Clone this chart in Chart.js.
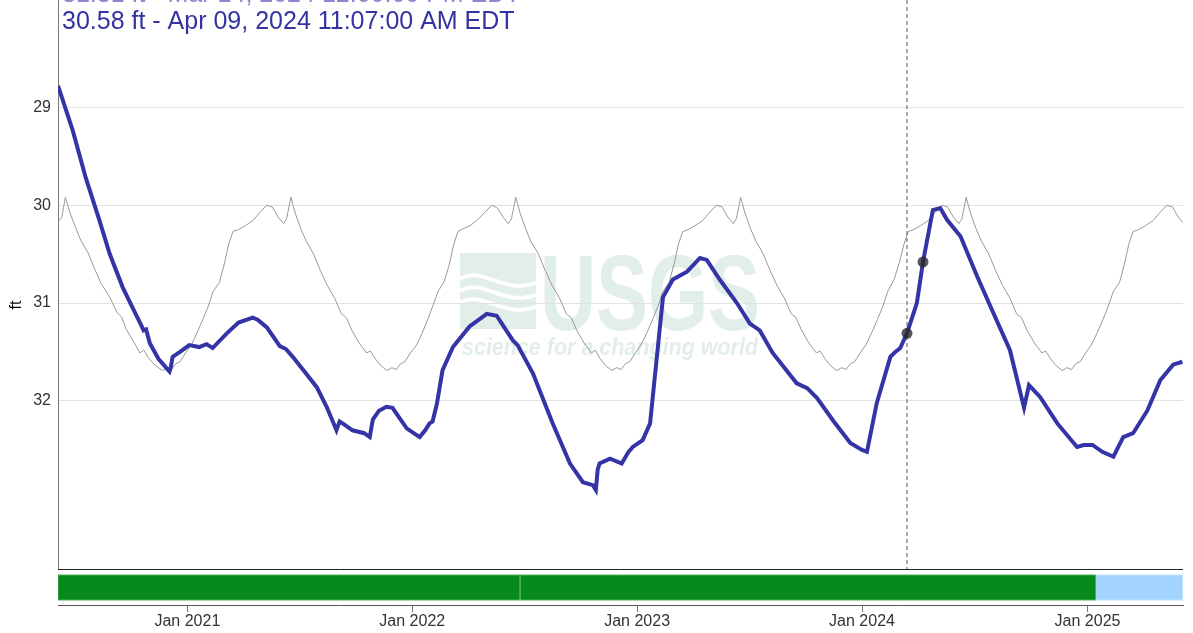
<!DOCTYPE html>
<html lang="en">
<head>
<meta charset="UTF-8">
<title>Groundwater level</title>
<script src="https://cdn.jsdelivr.net/npm/chart.js@4"></script>
<style>
  html, body { margin: 0; padding: 0; background: #fff; }
  #wrap { width: 1193px; height: 633px; position: relative; }
</style>
</head>
<body>
<div id="wrap"><canvas id="chart"></canvas></div>
<script>
// visible window
const rangeStart = '2020-06-05';
const rangeEnd = '2025-06-05';
const yMin = 27.905;   // top of plot (axis is reversed)
const yMax = 33.717;   // bottom of plot
const yTicks = [29, 30, 31, 32];
const tickYears = [2021, 2022, 2023, 2024, 2025];

// depth to water, ft
const levelPoints = [
  ['2020-06-05', 28.78], ['2020-06-29', 29.24], ['2020-07-20', 29.72], ['2020-08-11', 30.15],
  ['2020-08-28', 30.50], ['2020-09-18', 30.84], ['2020-10-05', 31.06], ['2020-10-16', 31.20],
  ['2020-10-22', 31.28], ['2020-10-26', 31.27], ['2020-11-01', 31.41], ['2020-11-15', 31.57],
  ['2020-12-03', 31.70], ['2020-12-05', 31.66], ['2020-12-08', 31.55], ['2020-12-20', 31.50],
  ['2021-01-04', 31.43], ['2021-01-20', 31.45], ['2021-02-01', 31.42], ['2021-02-11', 31.46],
  ['2021-03-06', 31.31], ['2021-03-25', 31.20], ['2021-04-17', 31.15], ['2021-04-25', 31.17],
  ['2021-05-10', 31.25], ['2021-05-31', 31.44], ['2021-06-10', 31.47], ['2021-06-21', 31.55],
  ['2021-07-10', 31.70], ['2021-07-30', 31.86], ['2021-08-15', 32.06], ['2021-08-31', 32.30],
  ['2021-09-05', 32.21], ['2021-09-10', 32.23], ['2021-09-26', 32.30], ['2021-10-15', 32.33],
  ['2021-10-24', 32.37], ['2021-10-29', 32.19], ['2021-11-08', 32.10], ['2021-11-20', 32.06],
  ['2021-11-30', 32.07], ['2021-12-12', 32.18], ['2021-12-23', 32.28], ['2022-01-13', 32.37],
  ['2022-01-22', 32.30], ['2022-01-29', 32.23], ['2022-02-03', 32.21], ['2022-02-10', 32.03],
  ['2022-02-19', 31.69], ['2022-03-08', 31.45], ['2022-04-04', 31.24], ['2022-05-02', 31.11],
  ['2022-05-18', 31.13], ['2022-06-13', 31.38], ['2022-06-21', 31.43], ['2022-07-16', 31.72],
  ['2022-08-17', 32.23], ['2022-09-14', 32.64], ['2022-10-05', 32.83], ['2022-10-21', 32.86],
  ['2022-10-26', 32.91], ['2022-10-29', 32.70], ['2022-11-01', 32.64], ['2022-11-18', 32.59],
  ['2022-12-07', 32.64], ['2022-12-18', 32.52], ['2022-12-25', 32.47], ['2023-01-10', 32.40],
  ['2023-01-22', 32.23], ['2023-02-02', 31.55], ['2023-02-12', 30.94], ['2023-02-28', 30.76],
  ['2023-03-23', 30.68], ['2023-04-13', 30.54], ['2023-04-24', 30.56], ['2023-05-15', 30.76],
  ['2023-06-12', 31.00], ['2023-07-03', 31.21], ['2023-07-19', 31.28], ['2023-08-09', 31.51],
  ['2023-09-17', 31.82], ['2023-10-04', 31.87], ['2023-10-20', 31.97], ['2023-11-15', 32.20],
  ['2023-12-13', 32.43], ['2024-01-01', 32.50], ['2024-01-09', 32.52], ['2024-01-25', 32.02],
  ['2024-02-16', 31.55], ['2024-02-24', 31.50], ['2024-03-03', 31.46], ['2024-03-14', 31.31],
  ['2024-03-30', 31.00], ['2024-04-09', 30.58], ['2024-04-25', 30.05], ['2024-05-07', 30.03],
  ['2024-05-18', 30.15], ['2024-06-09', 30.32], ['2024-07-06', 30.73], ['2024-08-01', 31.10],
  ['2024-08-28', 31.48], ['2024-09-20', 32.07], ['2024-09-28', 31.84], ['2024-10-16', 31.96],
  ['2024-11-13', 32.23], ['2024-12-15', 32.47], ['2024-12-26', 32.45], ['2025-01-09', 32.45],
  ['2025-01-25', 32.52], ['2025-02-12', 32.57], ['2025-02-28', 32.37], ['2025-03-16', 32.33],
  ['2025-04-08', 32.10], ['2025-04-29', 31.79], ['2025-05-20', 31.63], ['2025-06-04', 31.60]
];

// thin grey comparison line
const comparePoints = [
  ['2020-06-05', 30.17], ['2020-06-11', 30.13], ['2020-06-17', 29.92], ['2020-06-24', 30.07],
  ['2020-07-03', 30.22], ['2020-07-12', 30.36], ['2020-07-24', 30.49], ['2020-08-04', 30.66],
  ['2020-08-14', 30.80], ['2020-08-28', 30.94], ['2020-09-09', 31.10], ['2020-09-16', 31.14],
  ['2020-09-24', 31.27], ['2020-10-07', 31.41], ['2020-10-16', 31.51], ['2020-10-22', 31.48],
  ['2020-10-30', 31.56], ['2020-11-10', 31.64], ['2020-11-22', 31.69], ['2020-11-30', 31.66],
  ['2020-12-06', 31.68], ['2020-12-13', 31.62], ['2020-12-20', 31.60], ['2020-12-29', 31.51],
  ['2021-01-08', 31.42], ['2021-01-17', 31.30], ['2021-01-26', 31.17], ['2021-02-04', 31.03],
  ['2021-02-12', 30.88], ['2021-02-22', 30.79], ['2021-03-02', 30.60], ['2021-03-09', 30.40],
  ['2021-03-16', 30.27], ['2021-03-25', 30.25], ['2021-04-05', 30.21], ['2021-04-17', 30.16],
  ['2021-04-28', 30.08], ['2021-05-10', 30.00], ['2021-05-19', 30.02], ['2021-05-28', 30.12],
  ['2021-06-06', 30.19], ['2021-06-11', 30.14], ['2021-06-18', 29.92], ['2021-06-25', 30.08],
  ['2021-07-04', 30.24], ['2021-07-13', 30.37], ['2021-07-24', 30.49], ['2021-08-05', 30.67],
  ['2021-08-16', 30.82], ['2021-08-28', 30.95], ['2021-09-08', 31.11], ['2021-09-16', 31.15],
  ['2021-09-25', 31.28], ['2021-10-07', 31.41], ['2021-10-19', 31.51], ['2021-10-25', 31.49],
  ['2021-11-02', 31.57], ['2021-11-11', 31.64], ['2021-11-21', 31.69], ['2021-11-29', 31.66],
  ['2021-12-06', 31.68], ['2021-12-13', 31.62], ['2021-12-20', 31.60], ['2021-12-29', 31.51],
  ['2022-01-08', 31.43], ['2022-01-17', 31.31], ['2022-01-26', 31.17], ['2022-02-04', 31.02],
  ['2022-02-12', 30.88], ['2022-02-22', 30.78], ['2022-03-02', 30.61], ['2022-03-09', 30.41],
  ['2022-03-16', 30.27], ['2022-03-25', 30.24], ['2022-04-05', 30.21], ['2022-04-17', 30.15],
  ['2022-04-28', 30.08], ['2022-05-10', 30.00], ['2022-05-19', 30.03], ['2022-05-28', 30.12],
  ['2022-06-06', 30.19], ['2022-06-11', 30.14], ['2022-06-18', 29.92], ['2022-06-25', 30.08],
  ['2022-07-04', 30.24], ['2022-07-13', 30.38], ['2022-07-24', 30.49], ['2022-08-05', 30.67],
  ['2022-08-16', 30.82], ['2022-08-28', 30.95], ['2022-09-08', 31.11], ['2022-09-16', 31.15],
  ['2022-09-25', 31.28], ['2022-10-07', 31.41], ['2022-10-19', 31.51], ['2022-10-25', 31.48],
  ['2022-11-02', 31.57], ['2022-11-11', 31.64], ['2022-11-21', 31.69], ['2022-11-29', 31.66],
  ['2022-12-06', 31.68], ['2022-12-13', 31.62], ['2022-12-20', 31.60], ['2022-12-29', 31.51],
  ['2023-01-08', 31.42], ['2023-01-17', 31.30], ['2023-01-26', 31.17], ['2023-02-04', 31.03],
  ['2023-02-12', 30.88], ['2023-02-22', 30.79], ['2023-03-02', 30.60], ['2023-03-09', 30.40],
  ['2023-03-16', 30.27], ['2023-03-25', 30.25], ['2023-04-05', 30.21], ['2023-04-17', 30.16],
  ['2023-04-28', 30.08], ['2023-05-10', 30.00], ['2023-05-19', 30.02], ['2023-05-28', 30.12],
  ['2023-06-06', 30.19], ['2023-06-11', 30.14], ['2023-06-18', 29.92], ['2023-06-25', 30.08],
  ['2023-07-04', 30.24], ['2023-07-13', 30.37], ['2023-07-24', 30.49], ['2023-08-05', 30.67],
  ['2023-08-16', 30.82], ['2023-08-28', 30.95], ['2023-09-08', 31.11], ['2023-09-16', 31.15],
  ['2023-09-25', 31.28], ['2023-10-07', 31.41], ['2023-10-19', 31.51], ['2023-10-25', 31.49],
  ['2023-11-02', 31.57], ['2023-11-11', 31.64], ['2023-11-21', 31.69], ['2023-11-29', 31.66],
  ['2023-12-06', 31.68], ['2023-12-13', 31.62], ['2023-12-20', 31.60], ['2023-12-29', 31.51],
  ['2024-01-08', 31.42], ['2024-01-17', 31.30], ['2024-01-26', 31.17], ['2024-02-04', 31.03],
  ['2024-02-12', 30.88], ['2024-02-22', 30.76], ['2024-03-02', 30.58], ['2024-03-09', 30.40],
  ['2024-03-16', 30.27], ['2024-03-25', 30.25], ['2024-04-05', 30.21], ['2024-04-17', 30.16],
  ['2024-04-28', 30.08], ['2024-05-10', 30.00], ['2024-05-19', 30.02], ['2024-05-28', 30.12],
  ['2024-06-06', 30.19], ['2024-06-11', 30.14], ['2024-06-18', 29.92], ['2024-06-25', 30.08],
  ['2024-07-04', 30.24], ['2024-07-13', 30.37], ['2024-07-24', 30.49], ['2024-08-05', 30.67],
  ['2024-08-16', 30.82], ['2024-08-28', 30.95], ['2024-09-08', 31.11], ['2024-09-16', 31.15],
  ['2024-09-25', 31.28], ['2024-10-07', 31.41], ['2024-10-19', 31.51], ['2024-10-25', 31.49],
  ['2024-11-02', 31.57], ['2024-11-11', 31.64], ['2024-11-21', 31.69], ['2024-11-29', 31.66],
  ['2024-12-06', 31.68], ['2024-12-13', 31.62], ['2024-12-20', 31.60], ['2024-12-29', 31.51],
  ['2025-01-08', 31.42], ['2025-01-17', 31.30], ['2025-01-26', 31.17], ['2025-02-04', 31.03],
  ['2025-02-12', 30.88], ['2025-02-22', 30.79], ['2025-03-02', 30.60], ['2025-03-09', 30.40],
  ['2025-03-16', 30.27], ['2025-03-25', 30.25], ['2025-04-05', 30.21], ['2025-04-17', 30.16],
  ['2025-04-28', 30.08], ['2025-05-10', 30.00], ['2025-05-19', 30.02], ['2025-05-28', 30.12],
  ['2025-06-05', 30.18]
];

// hover cursor and its two readouts
const cursorDate = '2024-03-14';
const cursorPoints = [['2024-03-14', 31.31], ['2024-04-09', 30.58]];
const readoutLines = [
  '31.31 ft - Mar 14, 2024 12:00:00 PM EDT',
  '30.58 ft - Apr 09, 2024 11:07:00 AM EDT'
];

// approval status bar under the plot
const statusStarts = ['2020-06-05', '2022-06-25', '2025-01-14'];
const statusEnds = ['2022-06-25', '2025-01-14', '2025-06-05'];
const statusKinds = ['approved', 'approved', 'provisional'];

const day = s => Date.parse(s + 'T00:00:00Z') / 864e5;
const toXY = p => ({ x: day(p[0]), y: p[1] });

const statusColor = { approved: '#058a1b', provisional: '#a3d3ff' };
const statusEdge = { approved: '#4fae5a', provisional: '#c2e2ff' };

const statusSets = statusStarts.map((s, i) => ({
  type: 'line',
  yAxisID: 'yBar',
  data: [
    { x: day(s), y: 0 }, { x: day(s), y: 1 },
    { x: day(statusEnds[i]), y: 1 }, { x: day(statusEnds[i]), y: 0 }, { x: day(s), y: 0 }
  ],
  borderColor: statusEdge[statusKinds[i]],
  borderWidth: 1,
  backgroundColor: statusColor[statusKinds[i]],
  fill: 'shape',
  pointRadius: 0
}));

Chart.defaults.font.family = 'Arial, "Liberation Sans", sans-serif';
Chart.defaults.color = '#333';

function drawWatermark(ctx, area) {
  const left = area.left + 402, top = 253;
  ctx.save();
  ctx.fillStyle = '#e2eeea';
  // waves block
  ctx.fillRect(left, top, 76, 76);
  ctx.strokeStyle = '#fff';
  ctx.lineWidth = 4;
  for (let i = 0; i < 3; i++) {
    ctx.beginPath();
    ctx.moveTo(left, top + 26 + i * 12);
    ctx.bezierCurveTo(left + 22, top + 12 + i * 12, left + 44, top + 42 + i * 12, left + 76, top + 30 + i * 12);
    ctx.stroke();
  }
  // USGS letters
  ctx.font = 'bold 107px Arial, "Liberation Sans", sans-serif';
  ctx.textBaseline = 'alphabetic';
  let w = ctx.measureText('USGS').width;
  ctx.save();
  ctx.translate(left + 80, top + 77);
  ctx.scale(220 / w, 1);
  ctx.fillText('USGS', 0, 0);
  ctx.restore();
  // tagline
  ctx.font = 'italic bold 24px Arial, "Liberation Sans", sans-serif';
  w = ctx.measureText('science for a changing world').width;
  ctx.translate(left + 2, top + 102);
  ctx.scale(296 / w, 1);
  ctx.fillText('science for a changing world', 0, 0);
  ctx.restore();
}

const decorations = {
  id: 'decorations',
  beforeDraw(chart) {
    drawWatermark(chart.ctx, chart.chartArea);
  },
  afterDraw(chart) {
    const { ctx } = chart;
    const x = chart.scales.x, y = chart.scales.y;
    ctx.save();
    // plot frame bottom
    ctx.strokeStyle = '#222';
    ctx.lineWidth = 1;
    ctx.beginPath();
    ctx.moveTo(x.left, Math.round(y.bottom) + 0.5);
    ctx.lineTo(x.right, Math.round(y.bottom) + 0.5);
    ctx.stroke();
    // axis title
    ctx.fillStyle = '#000';
    ctx.font = '16px Arial, "Liberation Sans", sans-serif';
    ctx.textAlign = 'center';
    ctx.textBaseline = 'middle';
    ctx.save();
    ctx.translate(17, y.getPixelForValue(31.02));
    ctx.rotate(-Math.PI / 2);
    ctx.fillText('ft', 0, 0);
    ctx.restore();
    // readouts
    ctx.textAlign = 'left';
    ctx.textBaseline = 'alphabetic';
    ctx.font = '25px Arial, "Liberation Sans", sans-serif';
    ctx.fillStyle = '#8b88d2';
    ctx.fillText(readoutLines[0], x.left + 4, 2);
    ctx.fillStyle = '#3333a1';
    ctx.fillText(readoutLines[1], x.left + 4, 29);
    ctx.restore();
  }
};

new Chart(document.getElementById('chart'), {
  type: 'line',
  data: {
    datasets: [
      {
        yAxisID: 'y',
        data: cursorPoints.map(toXY),
        showLine: false,
        pointRadius: 5.5,
        pointBackgroundColor: 'rgba(40,40,40,0.78)',
        pointBorderWidth: 0
      },
      {
        yAxisID: 'y',
        data: levelPoints.map(toXY),
        borderColor: '#3434a6',
        borderWidth: 4,
        pointRadius: 0,
        tension: 0
      },
      {
        yAxisID: 'y',
        data: [{ x: day(cursorDate), y: yMin }, { x: day(cursorDate), y: yMax }],
        borderColor: '#555',
        borderWidth: 1,
        borderDash: [4, 3],
        pointRadius: 0
      },
      {
        yAxisID: 'y',
        data: comparePoints.map(toXY),
        borderColor: '#999',
        borderWidth: 1,
        pointRadius: 0,
        tension: 0
      },
      ...statusSets
    ]
  },
  options: {
    responsive: true,
    maintainAspectRatio: false,
    animation: false,
    events: [],
    layout: { autoPadding: false, padding: { top: 0, right: 10, bottom: 0, left: 0 } },
    plugins: { legend: { display: false }, tooltip: { enabled: false } },
    scales: {
      x: {
        type: 'linear',
        min: day(rangeStart),
        max: day(rangeEnd),
        border: { color: '#555' },
        grid: { drawOnChartArea: false, tickLength: 7, color: '#777' },
        ticks: {
          font: { size: 16 },
          padding: 0,
          maxRotation: 0,
          callback: v => 'Jan ' + new Date(v * 864e5).getUTCFullYear()
        },
        afterBuildTicks: s => { s.ticks = tickYears.map(yr => ({ value: day(yr + '-01-01') })); },
        afterFit: s => { s.height = 28; s.paddingLeft = 0; s.paddingRight = 0; }
      },
      yBar: {
        type: 'linear',
        position: 'left',
        stack: 'plot',
        stackWeight: 36,
        min: -0.2,
        max: 1.24,
        border: { display: false },
        grid: { display: false },
        ticks: { display: false },
        afterFit: s => { s.width = 58; s.paddingTop = 0; s.paddingBottom = 0; }
      },
      y: {
        type: 'linear',
        position: 'left',
        stack: 'plot',
        stackWeight: 569,
        reverse: true,
        min: yMin,
        max: yMax,
        border: { color: '#777' },
        grid: { color: '#e2e2e2', drawTicks: false },
        ticks: { font: { size: 16 }, padding: 7 },
        afterBuildTicks: s => { s.ticks = yTicks.map(v => ({ value: v })); },
        afterFit: s => { s.width = 58; s.paddingTop = 0; s.paddingBottom = 0; }
      }
    }
  },
  plugins: [decorations]
});
</script>
</body>
</html>
